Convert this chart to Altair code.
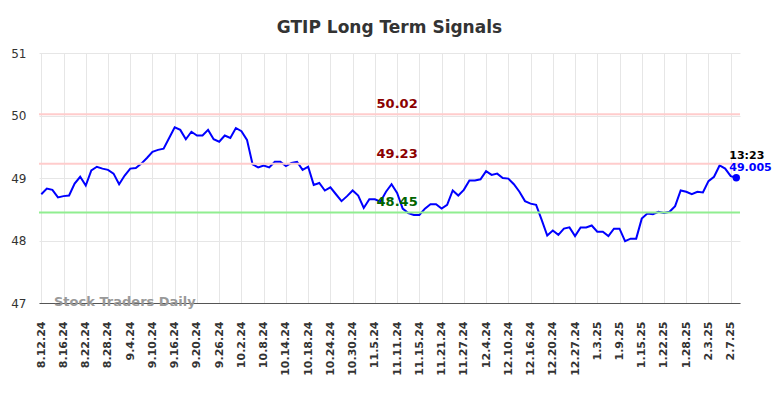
import altair as alt
import pandas as pd

# ---- data ----
values = [
    48.74, 48.83, 48.81, 48.69, 48.71, 48.72, 48.91, 49.02, 48.88, 49.12,
    49.18, 49.15, 49.13, 49.07, 48.90, 49.04, 49.15, 49.16, 49.23, 49.32,
    49.42, 49.45, 49.47, 49.64, 49.81, 49.77, 49.62, 49.74, 49.68, 49.68,
    49.77, 49.62, 49.58, 49.68, 49.64, 49.80, 49.75, 49.61, 49.22, 49.17,
    49.20, 49.17, 49.26, 49.26, 49.19, 49.24, 49.26, 49.13, 49.18, 48.89,
    48.92, 48.80, 48.85, 48.74, 48.63, 48.71, 48.80, 48.72, 48.52, 48.66,
    48.66, 48.62, 48.78, 48.90, 48.76, 48.51, 48.44, 48.41, 48.41, 48.51,
    48.58, 48.58, 48.51, 48.57, 48.80, 48.72, 48.81, 48.96, 48.96, 48.98,
    49.11, 49.05, 49.07, 49.00, 48.99, 48.90, 48.78, 48.63, 48.59, 48.57,
    48.33, 48.08, 48.16, 48.09, 48.19, 48.21, 48.07, 48.21, 48.21, 48.24,
    48.14, 48.14, 48.07, 48.19, 48.19, 47.99, 48.03, 48.03, 48.35, 48.43,
    48.42, 48.46, 48.44, 48.46, 48.55, 48.80, 48.78, 48.74, 48.78, 48.77,
    48.95, 49.02, 49.20, 49.15, 49.03, 49.005,
]
tick_labels = [
    "8.12.24", "8.16.24", "8.22.24", "8.28.24", "9.4.24", "9.10.24", "9.16.24",
    "9.20.24", "9.26.24", "10.2.24", "10.8.24", "10.14.24", "10.18.24",
    "10.24.24", "10.30.24", "11.5.24", "11.11.24", "11.15.24", "11.21.24",
    "11.27.24", "12.4.24", "12.10.24", "12.16.24", "12.20.24", "12.27.24",
    "1.3.25", "1.9.25", "1.15.25", "1.22.25", "1.28.25", "2.3.25", "2.7.25",
]
tick_step = 4
level_values = [50.02, 49.23, 48.45]
level_labels = ["50.02", "49.23", "48.45"]
level_line_colors = ["#ffcccc", "#ffcccc", "#90ee90"]
level_text_colors = ["#8b0000", "#8b0000", "#006400"]
last_time = "13:23"
last_value_label = "49.005"
y_ticks = [47, 48, 49, 50, 51]

FONT = "DejaVu Sans"

n = len(values)
df = pd.DataFrame({"i": list(range(n)), "v": values})
levels = pd.DataFrame({
    "v": level_values, "lab": level_labels,
    "lc": level_line_colors, "tc": level_text_colors,
    "i": [64] * len(level_values),
})
last = pd.DataFrame({"i": [n - 1], "v": [values[-1]],
                     "t": [last_time], "lab": [last_value_label]})

label_js = "[" + ",".join("'%s'" % s for s in tick_labels) + "]"
tick_vals = [k * tick_step for k in range(len(tick_labels))]

xscale = alt.Scale(domain=[-0.41, n - 1 + 0.67], nice=False, zero=False)
yscale = alt.Scale(domain=[47, 51], nice=False, zero=False)

x_axis = alt.Axis(
    values=tick_vals, labelExpr=label_js + "[round(datum.value/%d)]" % tick_step,
    labelAngle=-90, labelFontWeight="bold", labelFontSize=11, labelColor="#333",
    labelFont=FONT, labelPadding=18, labelOverlap=False, labelBound=False,
    labelSeparation=0, ticks=False, grid=True, gridColor="#e6e6e6",
    domain=True, domainColor="#555", domainWidth=1, title=None,
)
y_axis = alt.Axis(
    values=y_ticks, format="d", labelFontSize=12, labelColor="#333", labelFont=FONT,
    labelPadding=13, ticks=False, grid=True, gridColor="#e6e6e6",
    domain=False, title=None,
)

X = alt.X("i:Q", scale=xscale, axis=x_axis)
Y = alt.Y("v:Q", scale=yscale, axis=y_axis)

line = alt.Chart(df).mark_line(color="#0000ff", strokeWidth=2).encode(x=X, y=Y)

rules = alt.Chart(levels).mark_rule(strokeWidth=2).encode(
    y=Y, color=alt.Color("lc:N", scale=None))

level_text = alt.Chart(levels).mark_text(
    font=FONT, fontWeight="bold", fontSize=13, baseline="bottom", dy=-3
).encode(x=X, y=Y, text="lab:N", color=alt.Color("tc:N", scale=None))

dot = alt.Chart(last).mark_point(filled=True, size=55, color="#0000ff", opacity=1).encode(
    x=X, y=Y)

t1 = alt.Chart(last).mark_text(font=FONT, fontWeight="bold", fontSize=11, color="#000",
                               align="left", dx=-7, dy=-22).encode(x=X, y=Y, text="t:N")
t2 = alt.Chart(last).mark_text(font=FONT, fontWeight="bold", fontSize=11, color="#0000ff",
                               align="left", dx=-7, dy=-10).encode(x=X, y=Y, text="lab:N")

watermark = alt.Chart(pd.DataFrame({"s": ["Stock Traders Daily"]})).mark_text(
    font=FONT, fontWeight="bold", fontSize=13, color="#999", align="left", baseline="middle"
).encode(x=alt.value(15), y=alt.value(249), text="s:N")

chart = alt.layer(line, rules, level_text, dot, t1, t2, watermark).properties(
    width=701, height=250,
    title=alt.TitleParams("GTIP Long Term Signals", font=FONT, fontSize=17,
                          fontWeight="bold", color="#333", anchor="middle", offset=10),
    padding={"left": 31, "top": 45, "right": 36, "bottom": 87},
    autosize=alt.AutoSizeParams(type="none"),
).configure(background="white").configure_view(stroke=None).configure_axis(labelOverlap=False)

chart.save("out.html", embed_options={"renderer": "svg", "actions": False})
